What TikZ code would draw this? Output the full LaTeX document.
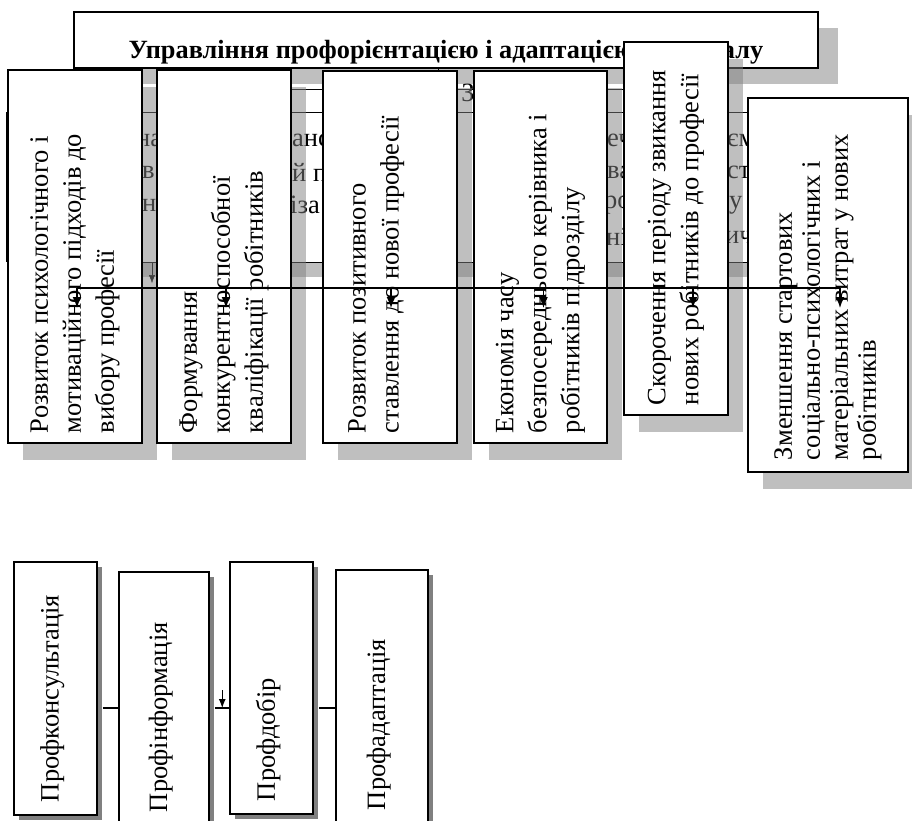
\documentclass[tikz,border=0pt]{standalone}
\usepackage{fontspec}
\setmainfont{Liberation Serif}
\usetikzlibrary{shadows,arrows.meta}

\newcommand{\vlab}[2]{\rotatebox{90}{\parbox{#1}{\raggedright #2}}}

\begin{document}
\begin{tikzpicture}[x=1pt, y=-1pt,
    box/.style={draw, line width=1.5pt, fill=white, inner sep=0pt,
      drop shadow={shadow xshift=15pt, shadow yshift=-17pt}},
    stage/.style={draw, line width=1.5pt, fill=white, inner sep=0pt,
      drop shadow={shadow xshift=5pt, shadow yshift=-5pt, opacity=1, fill=gray}},
    txt/.style={font=\fontsize{26.5}{33}\selectfont},
    frag/.style={anchor=west, inner sep=0pt, font=\fontsize{26.5}{30}\selectfont},
    link/.style={line width=1.5pt},
    tip/.style={line width=1.5pt, -{Latex[length=11pt,width=9pt]}}]
  \useasboundingbox (0,0) rectangle (912,821);

  % layer behind the boxes
  \node[draw, fill=white, minimum width=550, minimum height=23, inner sep=0pt] (head) at (445,100.5) {};
  \node[font=\fontsize{26.5}{30}\selectfont, inner sep=0pt] (zv) at (468,93) {З};
  \node[draw, fill=white, minimum width=783, minimum height=150, inner sep=0pt,
    drop shadow={shadow xshift=15pt, shadow yshift=-15pt}] (tasks) at (398.5,187) {};
  \draw[line width=2.5pt] (tasks.north west) -- (tasks.south west);
  \node[frag] at (136,140) {на};
  \node[frag] at (142,172) {в};
  \node[frag] at (142,205) {н};
  \node[frag] at (292,140) {анс};
  \node[frag] at (292,172) {й п};
  \node[frag] at (290,205) {іза};
  \node[frag] at (607,140) {еч};
  \node[frag] at (607,172) {ва};
  \node[frag] at (604,205) {ро};
  \node[frag] at (606,237) {ні};
  \node[frag] at (727,140) {єм};
  \node[frag] at (727,172) {ст};
  \node[frag] at (729,205) {у};
  \node[frag] at (725,237) {ич};
  \draw[-{Latex[length=8pt,width=6pt]}] (tasks.south -| 152,0) -- ++(0,21);

  \node[draw, line width=1.5pt, fill=white, minimum width=744, minimum height=56, inner sep=0pt,
    text height=38pt, text depth=0pt, font=\bfseries\fontsize{26.3}{30}\selectfont,
    drop shadow={shadow xshift=20pt, shadow yshift=-16pt}] (title) at (446,40)
    {Управління профорієнтацією і адаптацією персоналу};
  \draw ([xshift=-8]title.south) -- ([xshift=-8]title.south |- head.north);

  % effects
  \node[box, txt, minimum width=134, minimum height=373] (b1) at (75,256.5)
    {\vlab{353pt}{Розвиток психологічного і\\мотиваційного підходів до\\вибору професії}};
  \node[box, txt, minimum width=134, minimum height=373] (b2) at (224,256.5)
    {\vlab{353pt}{Формування\\конкурентноспособної\\кваліфікації робітників}};
  \node[box, txt, minimum width=134, minimum height=372] (b3) at (390,257)
    {\vlab{352pt}{Розвиток позитивного\\ставлення до нової професії\\\mbox{}}};
  \node[box, txt, minimum width=133, minimum height=372] (b4) at (540.5,257)
    {\vlab{352pt}{Економія часу\\безпосереднього керівника і\\робітників підрозділу}};
  \node[box, txt, minimum width=104, minimum height=373] (b5) at (676,228.5)
    {\vlab{353pt}{Скорочення періоду звикання\\нових робітників до професії}};
  \node[box, font=\fontsize{26.5}{28}\selectfont, minimum width=160, minimum height=374] (b6) at (828,285)
    {\vlab{350pt}{Зменшення стартових\\соціально-психологічних і\\матеріальних витрат у нових\\робітників}};

  \coordinate (bus) at (0,288);
  \draw[link] ([xshift=2pt]b1.center |- bus) -- ([xshift=12pt]b6.center |- bus);
  \foreach \n/\dx in {b1/2, b2/2, b3/1, b4/3, b5/17, b6/12}
    \draw[tip] ([xshift=\dx pt]\n.center |- bus) -- ++(0,20);

  % stages
  \node[stage, txt, minimum width=83, minimum height=253] (p1) at (55.5,688.5)
    {\vlab{227pt}{Профконсультація\rule[-12pt]{0pt}{1pt}}};
  \node[stage, txt, minimum width=90, minimum height=253] (p2) at (164,698.5)
    {\vlab{227pt}{Профінформація\rule[-12pt]{0pt}{1pt}}};
  \node[stage, txt, minimum width=83, minimum height=252] (p3) at (271.5,688)
    {\vlab{226pt}{Профдобір\rule[-12pt]{0pt}{1pt}}};
  \node[stage, txt, minimum width=92, minimum height=253] (p4) at (382,696.5)
    {\vlab{227pt}{Профадаптація\rule[-12pt]{0pt}{1pt}}};

  \coordinate (row) at (0,708);
  \draw[line width=1.2pt] ([xshift=5pt]p1.east |- row) -- (p2.west |- row);
  \draw[line width=1.2pt] ([xshift=5pt]p2.east |- row) -- (p3.west |- row);
  \draw[line width=1.2pt] ([xshift=5pt]p3.east |- row) -- (p4.west |- row);
  \draw[line width=1.2pt, -{Latex[length=9pt,width=7pt]}] ([xshift=-7pt, yshift=18pt]p3.west |- row) -- ([xshift=-7pt]p3.west |- row);
\end{tikzpicture}
\end{document}
